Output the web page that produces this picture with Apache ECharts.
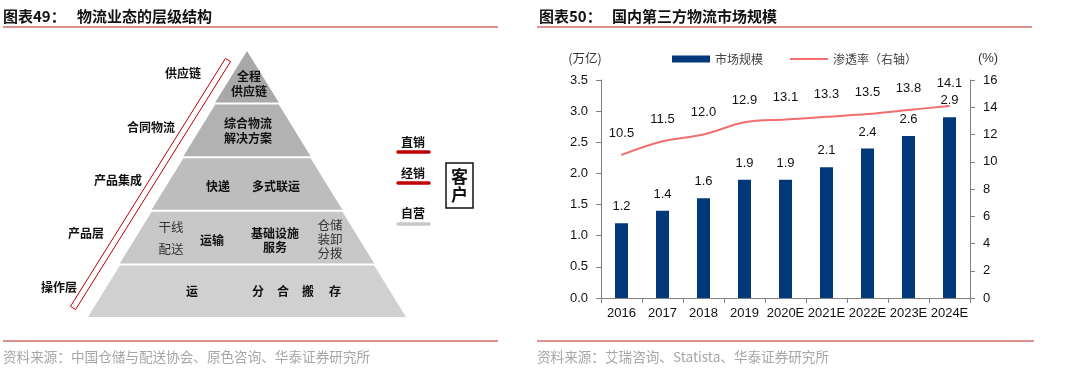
<!DOCTYPE html>
<html><head><meta charset="utf-8">
<script src="https://cdn.jsdelivr.net/npm/echarts@6/dist/echarts.min.js"></script>
<style>html,body{margin:0;padding:0;background:#fff}#c{width:1068px;height:370px}</style>
</head><body><div id="c"></div>
<script>
// ---- Figure 49: pyramid layers (top -> bottom) ----
const pyramidLayers = ['全程供应链', '综合物流解决方案', '快递 多式联运', '干线配送 运输 基础设施服务 仓储装卸分拨', '运 分 合 搬 存'];
const pyramidRank = [1, 2, 3, 4, 5];
const pyramidColors = ['#a8a8a8', '#b2b2b2', '#bdbdbd', '#c7c7c7', '#d0d0d0'];
const levelLabels = ['供应链', '合同物流', '产品集成', '产品层', '操作层'];
const channelLabels = ['直销', '经销', '自营'];

// ---- Figure 50: third-party logistics market ----
const categories = ['2016', '2017', '2018', '2019', '2020E', '2021E', '2022E', '2023E', '2024E'];
const marketSize = [1.2, 1.4, 1.6, 1.9, 1.9, 2.1, 2.4, 2.6, 2.9];
const penetration = [10.5, 11.5, 12.0, 12.9, 13.1, 13.3, 13.5, 13.8, 14.1];
const leftTicks = { min: 0, max: 3.5, interval: 0.5 };
const rightTicks = { min: 0, max: 16, interval: 2 };

const CJK = '"Noto Sans CJK SC", sans-serif';
const NUM = '"Liberation Sans", Arial, sans-serif';

function txt(x, y, s, o) {
  o = o || {};
  return { type: 'text', x: x, y: y, z: 100, silent: true, style: {
    text: s, fill: o.fill || '#111', font: (o.weight || 'bold') + ' ' + (o.size || 12) + 'px ' + (o.family || CJK),
    textAlign: o.align || 'center', textVerticalAlign: 'middle', lineHeight: o.lh } };
}

const g = [];
// titles
g.push(txt(3, 16, '图表49：', { size: 15, align: 'left' }));
g.push(txt(77, 16, '物流业态的层级结构', { size: 15, align: 'left' }));
g.push(txt(539, 16, '图表50：', { size: 15, align: 'left' }));
g.push(txt(612, 16, '国内第三方物流市场规模', { size: 15, align: 'left' }));
// red rules
[[3, 498, 27], [537, 1032, 27], [3, 498, 341], [537, 1034, 341]].forEach(function (l) {
  g.push({ type: 'line', z: 100, silent: true, shape: { x1: l[0], y1: l[2], x2: l[1], y2: l[2] }, style: { stroke: '#b22222', lineWidth: 1.2 } });
});
// sources
g.push(txt(3, 357, '资料来源：中国仓储与配送协会、原色咨询、华泰证券研究所', { size: 13.6, weight: 'normal', fill: '#a6a6a6', align: 'left' }));
g.push(txt(537, 357, '资料来源：艾瑞咨询、Statista、华泰证券研究所', { size: 13.6, weight: 'normal', fill: '#a6a6a6', align: 'left' }));

// pyramid inner texts
g.push(txt(249, 84, '全程\n供应链', { lh: 15 }));
g.push(txt(248, 131, '综合物流\n解决方案', { lh: 15 }));
g.push(txt(218, 186, '快递'));
g.push(txt(276, 186, '多式联运'));
g.push(txt(171, 227, '干线', { weight: 'normal', fill: '#333', size: 12.5 }));
g.push(txt(171, 249, '配送', { weight: 'normal', fill: '#333', size: 12.5 }));
g.push(txt(212, 240, '运输'));
g.push(txt(275, 240, '基础设施\n服务', { lh: 14 }));
g.push(txt(330, 239, '仓储\n装卸\n分拨', { weight: 'normal', fill: '#333', lh: 14, size: 12.5 }));
g.push(txt(192, 291, '运'));
['分', '合', '搬', '存'].forEach(function (c, i) { g.push(txt([258, 283, 308, 335][i], 291, c)); });
// level labels on the left
[[183, 73], [151, 127], [118, 180], [86, 233], [59, 287]].forEach(function (p, i) {
  g.push(txt(p[0], p[1], levelLabels[i]));
});
// diagonal outlined bar
(function () {
  const p1 = [73, 308], p2 = [228, 60];
  const dx = p2[0] - p1[0], dy = p2[1] - p1[1], L = Math.sqrt(dx * dx + dy * dy);
  const nx = -dy / L * 3, ny = dx / L * 3;
  g.push({ type: 'polygon', z: 100, silent: true, shape: { points: [[p1[0] + nx, p1[1] + ny], [p2[0] + nx, p2[1] + ny], [p2[0] - nx, p2[1] - ny], [p1[0] - nx, p1[1] - ny]] },
    style: { fill: '#fff', stroke: '#c00000', lineWidth: 1 } });
})();
// channels
[[142, 152, '#c00000'], [173, 183, '#c00000'], [213, 224, '#c8c8c8']].forEach(function (c, i) {
  g.push(txt(413, c[0], channelLabels[i]));
  g.push({ type: 'line', z: 100, silent: true, shape: { x1: 398, y1: c[1], x2: 429, y2: c[1] }, style: { stroke: c[2], lineWidth: 3.5, lineCap: 'round' } });
});
g.push({ type: 'rect', z: 100, silent: true, shape: { x: 446, y: 163, width: 27, height: 45 }, style: { fill: '#fff', stroke: '#111', lineWidth: 1.5 } });
g.push(txt(459.5, 177, '客', { size: 17 }));
g.push(txt(459.5, 195, '户', { size: 17 }));
// units
g.push(txt(585, 58, '(万亿)', { size: 12.5, weight: 'normal', fill: '#333' }));
g.push(txt(988, 58, '(%)', { size: 13, weight: 'normal', fill: '#333', family: NUM }));

const axisLineStyle = { lineStyle: { color: '#808080', width: 1 } };

const option = {
  animation: false,
  backgroundColor: '#fff',
  textStyle: { fontFamily: NUM },
  graphic: { elements: g },
  legend: {
    left: 667, top: 48, itemWidth: 38, itemHeight: 7, itemGap: 27,
    textStyle: { fontFamily: CJK, fontSize: 12, color: '#444' },
    data: [{ name: '市场规模', icon: 'rect' }, { name: '渗透率（右轴）', icon: 'path://M0,0L38,0L38,2L0,2Z' }]
  },
  grid: { left: 601, right: 98, top: 80, bottom: 72 },
  xAxis: {
    type: 'category', data: categories,
    axisLine: axisLineStyle, axisTick: { show: true, length: 5, lineStyle: { color: '#808080' } },
    axisLabel: { color: '#111', fontSize: 13, margin: 9, interval: 0 }
  },
  yAxis: [
    { type: 'value', min: leftTicks.min, max: leftTicks.max, interval: leftTicks.interval,
      axisLine: Object.assign({ show: true }, axisLineStyle), axisTick: { show: true, length: 5, lineStyle: { color: '#808080' } },
      splitLine: { show: false },
      axisLabel: { color: '#111', fontSize: 13, margin: 13, formatter: function (v) { return v.toFixed(1); } } },
    { type: 'value', min: rightTicks.min, max: rightTicks.max, interval: rightTicks.interval, position: 'right',
      axisLine: Object.assign({ show: true }, axisLineStyle), axisTick: { show: true, length: 5, lineStyle: { color: '#808080' } },
      splitLine: { show: false },
      axisLabel: { color: '#111', fontSize: 13, margin: 13 } }
  ],
  series: [
    {
      type: 'funnel', name: 'pyramid', left: 88, top: 51, width: 318, height: 266, z: 1,
      sort: 'ascending', min: 0, max: 5, minSize: '0%', maxSize: '100%', gap: 2,
      label: { show: false }, labelLine: { show: false }, silent: true,
      emphasis: { disabled: true },
      itemStyle: { borderWidth: 0 },
      data: pyramidLayers.map(function (n, i) { return { name: n, value: pyramidRank[i], itemStyle: { color: pyramidColors[i] } }; })
    },
    {
      name: '市场规模', type: 'bar', data: marketSize, barWidth: 13, yAxisIndex: 0,
      itemStyle: { color: '#00387a' },
      label: { show: true, position: 'top', distance: 10, color: '#111', fontSize: 13, formatter: function (p) { return p.value.toFixed(1); } }
    },
    {
      name: '渗透率（右轴）', type: 'line', data: penetration, yAxisIndex: 1, smooth: 0.35,
      symbol: 'circle', symbolSize: 1, showSymbol: true, lineStyle: { color: '#f26d6d', width: 2 }, itemStyle: { color: '#f26d6d' },
      label: { show: true, position: 'top', distance: 15, color: '#111', fontSize: 13, formatter: function (p) { return p.value.toFixed(1); } },
      z: 3
    }
  ]
};
const chart = echarts.init(document.getElementById('c'));
chart.setOption(option);
</script></body></html>
